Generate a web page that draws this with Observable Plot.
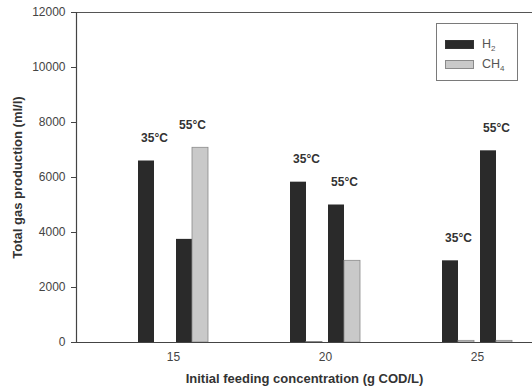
<!DOCTYPE html>
<html><head><meta charset="utf-8">
<script src="https://cdn.jsdelivr.net/npm/d3@7"></script>
<script src="https://cdn.jsdelivr.net/npm/@observablehq/plot@0.6"></script>
<style>
body{margin:0;background:#fff;}
#chart{position:relative;width:532px;height:391px;font-family:"Liberation Sans",Arial,sans-serif;}
#legend{position:absolute;left:436px;top:23px;width:82px;height:58px;border:1px solid #7a7a7a;background:#fff;box-sizing:border-box;}
.row{position:absolute;left:8px;display:flex;align-items:center;height:12px;}
.sw{width:29px;height:9px;box-sizing:border-box;}
.lab{margin-left:8px;font-size:12.5px;color:#555;line-height:12px;}
.lab sub{font-size:8px;vertical-align:-3px;line-height:0;}
g[aria-label="y-axis label"] text, g[aria-label="fx-axis label"] text{font-weight:bold;font-size:13px;fill:#333;}
</style></head><body><div id="chart"></div>
<script>
// ---- data ----
const concentrations = [15, 20, 25];
const temperatures = [35, 55];
const barConc = [15, 15, 20, 20, 25, 25];
const barTemp = [35, 55, 35, 55, 35, 55];
const h2Values = [6600, 3750, 5830, 5000, 2970, 6970];
const ch4Values = [0, 7080, 20, 2970, 60, 60];
const yTicks = [0, 2000, 4000, 6000, 8000, 10000, 12000];
const gasNames = ["H2", "CH4"];

const rows = barConc.map((c, i) => ({conc: c, temp: barTemp[i], H2: h2Values[i], CH4: ch4Values[i]}));

const h2Color = "#2a2a2a", ch4Color = "#c9c9c9";

const plot = Plot.plot({
  width: 532, height: 391,
  marginLeft: 76, marginRight: 0, marginTop: 12, marginBottom: 49,
  style: {fontFamily: '"Liberation Sans", Arial, sans-serif', fontSize: "12px", color: "#444", background: "#fff"},
  fx: {domain: concentrations, padding: 0, axis: null},
  x: {domain: temperatures, paddingInner: 0.158, paddingOuter: 1.079, align: 0.762, axis: null},
  y: {domain: [0, 12000], axis: null},
  marks: [
    Plot.barY(rows, {fx: "conc", x: "temp", y: "H2", fill: h2Color, insetRight: 16}),
    Plot.barY(rows, {fx: "conc", x: "temp", y: "CH4", fill: ch4Color, stroke: "#8a8a8a", strokeWidth: 0.8, insetLeft: 16}),
    Plot.ruleY([0], {stroke: "#444", strokeWidth: 1.2}),
    Plot.ruleY([12000], {stroke: "#555", strokeWidth: 1}),
    Plot.frame({anchor: "left", facetAnchor: "left", stroke: "#444", strokeWidth: 1.2}),
    Plot.text(rows, {fx: "conc", x: "temp", y: d => Math.max(d.H2, d.CH4), text: d => d.temp + "°C",
      dy: -23, fontWeight: "bold", fontSize: 12, fill: "#333"}),
    Plot.axisY({ticks: yTicks, tickFormat: d3.format("d"), tickSize: 5, tickPadding: 6, fontSize: 12, fill: "#444",
      label: "Total gas production (ml/l)", labelAnchor: "center", labelArrow: "none", labelOffset: 64}),
    Plot.axisFx({anchor: "bottom", tickSize: 0, tickPadding: 10, dx: 21, fontSize: 12, fill: "#444", label: null}),
    Plot.axisFx({anchor: "bottom", ticks: [], tickSize: 0, label: "Initial feeding concentration (g COD/L)", labelAnchor: "center", labelArrow: "none", labelOffset: 40})
  ]
});

const chart = document.getElementById("chart");
chart.appendChild(plot);

// legend
const legend = document.createElement("div");
legend.id = "legend";
const legendItems = [
  {name: "H", sub: "2", fill: h2Color, stroke: "#333", top: 14},
  {name: "CH", sub: "4", fill: ch4Color, stroke: "#8a8a8a", top: 34}
];
legendItems.forEach(it => {
  const r = document.createElement("div");
  r.className = "row";
  r.style.top = it.top + "px";
  r.innerHTML = `<div class="sw" style="background:${it.fill};border:1px solid ${it.stroke}"></div><span class="lab">${it.name}<sub>${it.sub}</sub></span>`;
  legend.appendChild(r);
});
chart.appendChild(legend);
</script></body></html>
